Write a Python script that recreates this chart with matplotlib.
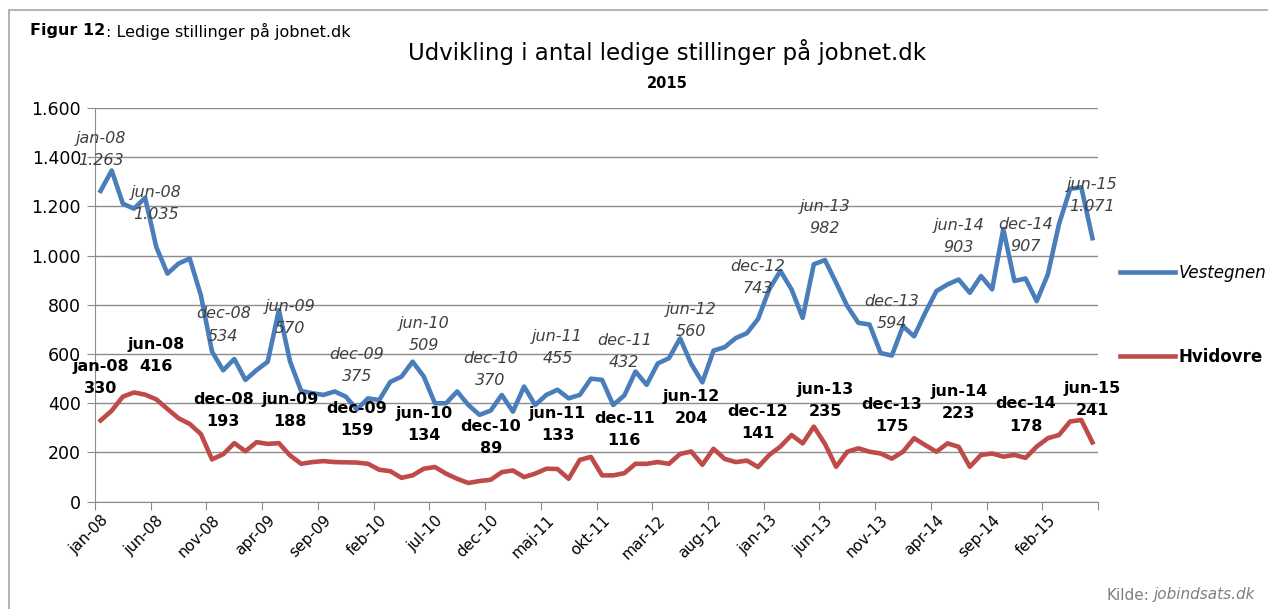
import matplotlib
matplotlib.use("Agg")
import matplotlib.pyplot as plt
from matplotlib.patches import Rectangle
from matplotlib.ticker import FuncFormatter

# -----------------------------------------------------------------------
# Data — monthly vacancies on jobnet.dk, jan-08 .. jun-15
# -----------------------------------------------------------------------
MONTHS = ["jan", "feb", "mar", "apr", "maj", "jun",
          "jul", "aug", "sep", "okt", "nov", "dec"]
categories = [f"{m}-{y:02d}" for y in range(8, 16) for m in MONTHS][:90]

vestegnen = [1263, 1346, 1211, 1191, 1235, 1035, 927, 968, 988, 839,
             610, 534, 580, 495, 535, 569, 779, 570, 450, 441,
             434, 448, 427, 375, 420, 413, 487, 508, 569, 509,
             400, 400, 448, 393, 353, 370, 434, 366, 468, 393,
             434, 455, 420, 434, 500, 495, 393, 432, 529, 475,
             562, 583, 664, 560, 485, 614, 628, 665, 685, 743,
             863, 938, 863, 747, 965, 982, 890, 795, 727, 720,
             604, 594, 713, 672, 768, 856, 883, 903, 849, 917,
             863, 1108, 897, 907, 815, 924, 1128, 1271, 1278, 1071]

hvidovre = [330, 370, 427, 444, 435, 416, 377, 339, 316, 275,
            172, 193, 238, 205, 242, 235, 238, 188, 154, 161,
            165, 161, 160, 159, 154, 130, 124, 97, 107, 134,
            141, 114, 93, 76, 84, 89, 120, 127, 100, 114,
            134, 133, 93, 170, 182, 107, 107, 116, 154, 154,
            161, 154, 194, 204, 150, 215, 174, 161, 167, 141,
            190, 224, 271, 237, 305, 235, 142, 203, 217, 203,
            196, 175, 203, 258, 230, 203, 237, 223, 142, 190,
            196, 183, 190, 178, 224, 258, 271, 326, 332, 241]

# months that carry a data label (every jun / dec)
labelled = [0, 5, 11, 17, 23, 29, 35, 41, 47, 53, 59, 65, 71, 77, 83, 89]

# label heights (y data units) — hand placed as in the original
blue_label_y = [1432, 1212, 718, 749, 554, 680, 537, 627, 609, 737,
                911, 1155, 769, 1078, 1082, 1243]
red_label_y = [505, 594, 371, 371, 334, 314, 261, 314, 293, 383,
               322, 411, 350, 403, 352, 415]

COLOR_BLUE = "#4a7ebb"
COLOR_RED = "#be4b48"
COLOR_GRID = "#8c8c8c"
COLOR_TEXT = "#000000"


def thousands(v, pos):
    return f"{int(v):,}".replace(",", ".")


plt.rcParams["font.family"] = ["DejaVu Sans"]

fig = plt.figure(figsize=(12.68, 6.09), dpi=100)
fig.patch.set_facecolor("white")
ax = fig.add_axes([95 / 1268, 1 - 501.7 / 609, (1098 - 95) / 1268, (501.7 - 108) / 609])

x = list(range(len(categories)))
line_v, = ax.plot(x, vestegnen, color=COLOR_BLUE, lw=3.3, solid_joinstyle="round",
                  label="Vestegnen", zorder=3)
line_h, = ax.plot(x, hvidovre, color=COLOR_RED, lw=3.3, solid_joinstyle="round",
                  label="Hvidovre", zorder=3)

ax.set_xlim(-0.5, len(categories) - 0.5)
ax.set_ylim(0, 1600)
ax.set_yticks(range(0, 1601, 200))
ax.yaxis.set_major_formatter(FuncFormatter(thousands))
ax.grid(axis="y", color=COLOR_GRID, lw=1)
ax.set_axisbelow(True)

# category axis: ticks on boundaries, labels every 5th month
ax.set_xticks([i - 0.5 for i in range(0, len(categories) + 1, 5)])
ax.set_xticklabels([])
ax.set_xticks(x[::5], minor=True)
ax.set_xticklabels(categories[::5], minor=True, rotation=45, ha="right",
                   rotation_mode="anchor", fontsize=11)
ax.tick_params(axis="x", which="major", length=6, color=COLOR_GRID, direction="out")
ax.tick_params(axis="x", which="minor", length=0, pad=8)
ax.tick_params(axis="y", length=6, color=COLOR_GRID, labelsize=12.5, pad=4)

for side in ("top", "right"):
    ax.spines[side].set_visible(False)
for side in ("left", "bottom"):
    ax.spines[side].set_color(COLOR_GRID)

# data labels
for k, i in enumerate(labelled):
    ax.text(i, blue_label_y[k], f"{categories[i]}\n{thousands(vestegnen[i], None)}",
            ha="center", va="center", fontsize=11.5, style="italic", color="#404040",
            linespacing=1.6, zorder=4)
    ax.text(i, red_label_y[k], f"{categories[i]}\n{hvidovre[i]}",
            ha="center", va="center", fontsize=11.5, fontweight="bold", color=COLOR_TEXT,
            linespacing=1.6, zorder=4)

# legend on the right
leg = ax.legend(handles=[line_v, line_h], loc="center left",
                bbox_to_anchor=(1112 / 1268, 1 - 315 / 609), bbox_transform=fig.transFigure,
                frameon=False, fontsize=12, handlelength=3.3, handletextpad=0.2,
                labelspacing=4.0, borderpad=0)
leg.get_texts()[0].set_style("italic")
leg.get_texts()[1].set_fontweight("bold")

# titles and texts
fig.text(667 / 1268, 1 - 52 / 609, "Udvikling i antal ledige stillinger på jobnet.dk",
         ha="center", va="center", fontsize=16.5)
fig.text(667 / 1268, 1 - 83 / 609, "2015", ha="center", va="center",
         fontsize=10.5, fontweight="bold")
fig_label = fig.text(30 / 1268, 1 - 31 / 609, "Figur 12", ha="left", va="center",
                     fontsize=11.5, fontweight="bold")
# put the rest of the heading right after the bold part
renderer = fig.canvas.get_renderer()
x_end = fig_label.get_window_extent(renderer).x1 / fig.bbox.width
fig.text(x_end + 1 / 1268, 1 - 31 / 609, ": Ledige stillinger på jobnet.dk",
         ha="left", va="center", fontsize=11.5)
fig.text(1255 / 1268, 1 - 595 / 609, "jobindsats.dk", ha="right", va="center",
         fontsize=11, style="italic", color="#7f7f7f")
fig.text(1149 / 1268, 1 - 595 / 609, "Kilde:", ha="right", va="center",
         fontsize=11, color="#7f7f7f")

fig.add_artist(Rectangle((9 / 1268, -0.01), 1.5, 1 - 10 / 609 + 0.01,
                         transform=fig.transFigure, fill=False, edgecolor="#a6a6a6", lw=1.2))

fig.savefig("out.png", dpi=100, facecolor="white")
